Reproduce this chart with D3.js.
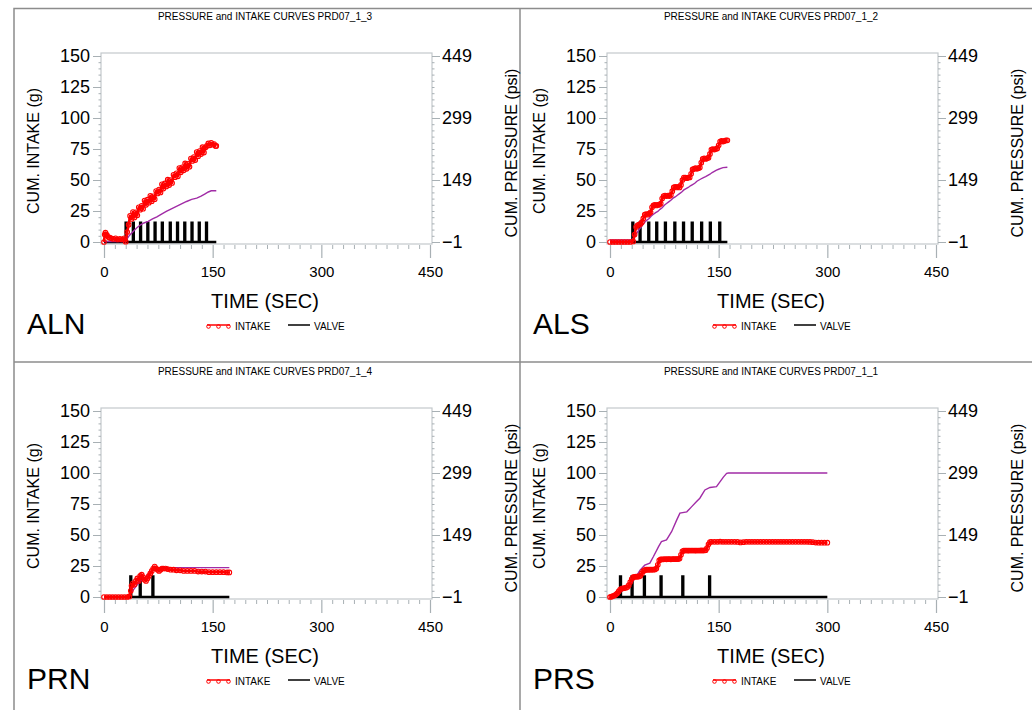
<!DOCTYPE html>
<html><head><meta charset="utf-8">
<script src="https://cdn.jsdelivr.net/npm/d3@7"></script>
<style>
body{margin:0;background:#fff;}
svg text{font-family:"Liberation Sans",Arial,Helvetica,sans-serif;fill:#000;}
</style></head><body>
<svg id="chart" width="1032" height="710"></svg>
<script>
// ---- axis tick values ----
const timeTicks = [0, 150, 300, 450];
const intakeTicks = [0, 25, 50, 75, 100, 125, 150];
const pressureTicks = [-1, 149, 299, 449];

// ---- panel labels / titles ----
const panelNames = ["ALN", "ALS", "PRN", "PRS"];
const panelTitles = [
  "PRESSURE and INTAKE CURVES PRD07_1_3",
  "PRESSURE and INTAKE CURVES PRD07_1_2",
  "PRESSURE and INTAKE CURVES PRD07_1_4",
  "PRESSURE and INTAKE CURVES PRD07_1_1"
];

// ---- cumulative intake [time s, grams] ----
const alnIntake = [[0,0],[1,6],[2,7.5],[3,6],[4,5.5],[6,4],[8,3.5],[10,3],[13,2.5],[16,3],[19,2],[22,2.5],[25,2],[28,3],[30,0.3],[32,8],[34,14],[36,21],[38,18.6],[40,24.2],[42,19.8],[44,23.9],[46,21.5],[48,28],[50,26.1],[52,29.2],[54,26.8],[56,33.4],[58,30],[60,34.1],[62,31.7],[64,37.3],[66,32.9],[68,36.9],[70,34.5],[72,41.1],[74,39.2],[76,42.3],[78,39.9],[80,46.5],[82,43.1],[84,47.2],[86,44.8],[88,50.3],[90,45.9],[92,50],[94,47.6],[96,54.2],[98,52.3],[100,55.4],[102,53],[104,59.6],[106,56.2],[108,60.2],[110,57.8],[112,63.4],[114,59],[116,63.1],[118,60.7],[120,67.3],[122,65.4],[124,68.5],[126,66.1],[128,72.6],[130,69.2],[132,73.3],[134,70.9],[136,76.5],[138,72.1],[140,76.2],[142,77.5],[144,79.5],[146,78],[148,80],[150,78.5],[152,79],[154,77.5],[155,77.5]];
const alsIntake = [[0,0],[4,0],[8,0],[12,0],[16,0],[20,0],[24,0],[28,0],[32,0.5],[34,6],[36,12],[38,13.5],[40,14],[42,14.5],[44,16],[46,19],[48,22],[50,22.5],[52,22],[54,23],[56,24],[58,28],[60,29.5],[62,30],[64,29.5],[66,30],[68,30],[70,31],[72,35],[74,37],[76,37.5],[78,37],[80,37.5],[82,37],[84,38],[86,41],[88,44],[90,44.5],[92,44],[94,44.5],[96,44],[98,46],[100,50],[102,52],[104,52],[106,51.5],[108,52],[110,52],[112,55],[114,58.5],[116,59],[118,59.5],[120,59],[122,59.5],[124,60],[126,64],[128,67],[130,67.5],[132,67],[134,67.5],[136,68],[138,71],[140,74.5],[142,75],[144,74.5],[146,75],[148,75.5],[150,78],[152,81],[154,81.5],[156,81],[158,81.5],[160,82],[162,82]];
const prnIntake = [[0,0],[4,0],[8,0],[12,0],[16,0],[20,0],[24,0],[28,0],[32,0],[35,0.5],[37,5],[38,9],[40,11],[42,10],[44,13],[46,15],[48,13],[50,17],[52,18],[54,16],[56,14],[58,13],[60,15],[62,17],[64,19],[66,21],[68,23],[70,24.5],[72,23],[74,22],[76,21],[78,22],[80,23],[82,23],[85,23],[88,22.5],[92,22],[96,22],[100,21.5],[105,21.5],[110,21],[115,21],[120,21],[125,21],[130,20.5],[135,20.5],[140,20.5],[145,20],[150,20],[155,20],[160,20],[165,20],[170,19.8],[173,19.8]];
const prsIntake = [[0,0],[2,0.3],[4,0.8],[6,1.2],[8,2],[10,3],[12,4.5],[14,6],[16,6.8],[18,7],[20,7.2],[22,7.5],[24,8],[26,9.5],[28,12],[30,14.5],[32,16],[34,16.3],[36,16.4],[38,16.4],[40,16.6],[42,17.2],[44,19],[46,20.8],[48,21.6],[50,22],[52,22],[54,22],[56,22],[58,22.1],[60,22],[62,22.2],[64,23],[66,26],[68,29.5],[70,30.3],[72,30.4],[74,30.4],[76,30.5],[78,30.4],[80,30.5],[82,30.5],[84,30.4],[86,30.5],[88,30.5],[90,30.5],[92,30.6],[94,30.6],[96,31],[98,34],[100,36.8],[102,37.4],[104,37.5],[106,37.5],[108,37.4],[110,37.5],[112,37.5],[114,37.5],[116,37.5],[118,37.4],[120,37.5],[122,37.5],[124,37.5],[126,37.6],[128,37.5],[130,37.6],[132,37.8],[134,39.5],[136,42.5],[138,44.3],[140,44.5],[144,44.5],[148,44.5],[152,44.6],[156,44.5],[160,44.5],[164,44.5],[168,44.5],[172,44.5],[176,44.4],[180,44],[184,44.2],[188,44.5],[192,44.5],[196,44.5],[200,44.5],[204,44.5],[208,44.5],[212,44.5],[216,44.5],[220,44.5],[224,44.5],[228,44.5],[232,44.5],[236,44.5],[240,44.5],[244,44.5],[248,44.5],[252,44.5],[256,44.5],[260,44.5],[264,44.5],[268,44.5],[272,44.5],[276,44.4],[280,44.2],[284,43.9],[288,43.8],[292,43.8],[296,43.8],[300,43.8]];

// ---- cumulative pressure [time s, psi] ----
const alnPressure = [[0,0],[30,0],[31,4],[35,15],[40,24],[45,33],[50,40],[55,45],[61,49],[67,55],[73,60],[80,67],[86,73],[93,79],[100,85],[107,91],[114,97],[121,102],[128,105],[134,110],[139,115],[144,120],[148,123],[155,123]];
const alsPressure = [[0,4],[30,4],[33,9],[36,18],[39,26],[42,33],[45,40],[48,47],[51,52],[54,56],[57,62],[60,66],[63,70],[66,73],[69,78],[72,82],[75,88],[78,92],[81,96],[84,100],[87,105],[90,108],[93,112],[96,116],[99,120],[102,125],[105,128],[108,131],[111,135],[114,138],[117,141],[120,146],[123,149],[126,152],[129,155],[132,157],[135,160],[138,163],[141,167],[144,170],[147,173],[150,175],[153,177],[156,179],[162,180]];
const prnPressure = [[0,0],[33,0],[36,6],[40,15],[44,24],[48,33],[50,38],[53,40],[56,44],[60,52],[64,58],[68,65],[71,70],[80,70],[100,70],[120,70],[140,70],[160,70],[173,70]];
const prsPressure = [[0,0],[11.5,8],[25,24],[34.5,44],[41.5,64],[48,76],[55,81],[60,97],[67,121],[71,133],[78,137],[85,157],[92,185],[96.5,202],[106,205],[112.5,217],[119.5,230],[124,238],[131,258],[138,264],[147,266],[152,278],[156.5,289],[161,298],[163.5,299],[300,299]];

// ---- valve openings (start times, s) ----
const alnValve = [30,40,50,60,70,80,91,101,111,121,131,141];
const alsValve = [31,41,53,64,76,89,101,113,126,138,151];
const prnValve = [36.5,49.5,67];
const prsValve = [14,30,47,70,100,137];
// end of each valve trace (s) and pulse height (g)
const valveEnd = [155, 162, 173, 300];
const valveHeight = [15.5, 15.5, 16.5, 16.5];

const panelIntake = [alnIntake, alsIntake, prnIntake, prsIntake];
const panelPressure = [alnPressure, alsPressure, prnPressure, prsPressure];
const panelValve = [alnValve, alsValve, prnValve, prsValve];

// panel placement
const offX = [0, 506, 0, 506];
const offY = [0, 0, 355, 355];

const svg = d3.select("#chart");
const FRAME = "#c3c9cc", TICK = "#a8b0b4", PURPLE = "#a12ca6";

// outer frame and dividers (the page ends before the right and bottom edges)
const border = svg.append("g").attr("stroke", "#8c8c8c").attr("stroke-width", 1.5).attr("fill", "none");
border.append("rect").attr("x", 14).attr("y", 8.5).attr("width", 1040).attr("height", 712);
border.append("line").attr("x1", 520).attr("x2", 520).attr("y1", 8).attr("y2", 720);
border.append("line").attr("x1", 14).attr("x2", 1040).attr("y1", 362).attr("y2", 362);

function drawPanel(i) {
  const g = svg.append("g").attr("transform", `translate(${offX[i]},${offY[i]})`);
  const x = d3.scaleLinear().domain([0, 450]).range([104, 430]);
  const yL = d3.scaleLinear().domain([0, 150]).range([242, 56]);
  const yR = d3.scaleLinear().domain([-1, 449]).range([242, 56]);

  // title
  g.append("text").attr("x", 265).attr("y", 20).attr("text-anchor", "middle")
    .attr("font-size", 10).text(panelTitles[i]);

  // plot frame
  g.append("rect").attr("x", 101).attr("y", 53).attr("width", 331).attr("height", 191)
    .attr("fill", "none").attr("stroke", FRAME).attr("stroke-width", 1.2);

  // left axis
  const la = g.append("g").attr("transform", "translate(101,0)")
    .call(d3.axisLeft(yL).tickValues(intakeTicks).tickSize(8).tickPadding(3).tickFormat(d3.format("d")));
  la.select(".domain").remove();
  la.selectAll("line").attr("stroke", TICK);
  la.selectAll("text").attr("font-size", 18).attr("font-family", null);
  const lm = g.append("g").attr("transform", "translate(101,0)")
    .call(d3.axisLeft(yL).tickValues(d3.range(0, 151, 5).filter(v => v % 25)).tickSize(2.5).tickFormat(""));
  lm.select(".domain").remove();
  lm.selectAll("line").attr("stroke", TICK);

  // right axis
  const ra = g.append("g").attr("transform", "translate(432,0)")
    .call(d3.axisRight(yR).tickValues(pressureTicks).tickSize(8).tickPadding(2)
      .tickFormat(d => d < 0 ? "\u2212" + Math.abs(d) : String(d)));
  ra.select(".domain").remove();
  ra.selectAll("line").attr("stroke", TICK);
  ra.selectAll("text").attr("font-size", 18).attr("font-family", null);
  const rm = g.append("g").attr("transform", "translate(432,0)")
    .call(d3.axisRight(yR).tickValues(d3.range(14, 449, 15).filter(v => (v + 1) % 150)).tickSize(2.5).tickFormat(""));
  rm.select(".domain").remove();
  rm.selectAll("line").attr("stroke", TICK);

  // bottom axis
  const ba = g.append("g").attr("transform", "translate(0,245)")
    .call(d3.axisBottom(x).tickValues(timeTicks).tickSize(13).tickPadding(8));
  ba.select(".domain").remove();
  ba.selectAll("line").attr("stroke", TICK).attr("stroke-width", 1.2);
  ba.selectAll("text").attr("font-size", 15).attr("font-family", null);
  const bm = g.append("g").attr("transform", "translate(0,245)")
    .call(d3.axisBottom(x).tickValues(d3.range(15, 450, 15).filter(v => v % 150)).tickSize(4).tickFormat(""));
  bm.select(".domain").remove();
  bm.selectAll("line").attr("stroke", TICK);

  // axis titles
  g.append("text").attr("transform", "translate(39,151) rotate(-90)").attr("text-anchor", "middle")
    .attr("font-size", 16).text("CUM. INTAKE (g)");
  g.append("text").attr("transform", "translate(517,153) rotate(-90)").attr("text-anchor", "middle")
    .attr("font-size", 16).text("CUM. PRESSURE (psi)");
  g.append("text").attr("x", 265).attr("y", 308).attr("text-anchor", "middle")
    .attr("font-size", 20).text("TIME (SEC)");

  // valve trace: baseline with short pulses
  const vh = valveHeight[i], opens = panelValve[i];
  const vpts = [[0, 0]];
  opens.forEach(t0 => { vpts.push([t0, 0], [t0, vh], [t0 + 1, vh], [t0 + 1, 0]); });
  vpts.push([valveEnd[i], 0]);
  g.append("path").datum(vpts)
    .attr("d", d3.line().x(d => x(d[0])).y(d => yL(d[1])))
    .attr("fill", "none").attr("stroke", "#000").attr("stroke-width", 2.6);

  // pressure
  g.append("path").datum(panelPressure[i])
    .attr("d", d3.line().x(d => x(d[0])).y(d => yR(d[1])))
    .attr("fill", "none").attr("stroke", PURPLE).attr("stroke-width", 1.4);

  // intake line + circle markers
  const intake = panelIntake[i];
  g.append("path").datum(intake)
    .attr("d", d3.line().x(d => x(d[0])).y(d => yL(d[1])))
    .attr("fill", "none").attr("stroke", "#ff0000").attr("stroke-width", 2.6)
    .attr("stroke-linejoin", "round");
  g.append("g").selectAll("circle").data(intake).join("circle")
    .attr("cx", d => x(d[0])).attr("cy", d => yL(d[1])).attr("r", 2.3)
    .attr("fill", "none").attr("stroke", "#ff0000").attr("stroke-width", 1.1);

  // legend
  const lg = g.append("g");
  lg.append("line").attr("x1", 207).attr("x2", 230).attr("y1", 325).attr("y2", 325)
    .attr("stroke", "#ff0000").attr("stroke-width", 1.5);
  lg.selectAll("circle").data([208.5, 218.5, 228.5]).join("circle")
    .attr("cx", d => d).attr("cy", 326.5).attr("r", 1.8)
    .attr("fill", "none").attr("stroke", "#ff0000").attr("stroke-width", 1);
  lg.append("text").attr("x", 235).attr("y", 329.5).attr("font-size", 10).text("INTAKE");
  lg.append("line").attr("x1", 288).attr("x2", 310).attr("y1", 325).attr("y2", 325)
    .attr("stroke", "#000").attr("stroke-width", 1.5);
  lg.append("text").attr("x", 314).attr("y", 329.5).attr("font-size", 10).text("VALVE");

  // panel name
  g.append("text").attr("x", 27).attr("y", 334).attr("font-size", 30).text(panelNames[i]);
}

[0, 1, 2, 3].forEach(drawPanel);
</script>
</body></html>
